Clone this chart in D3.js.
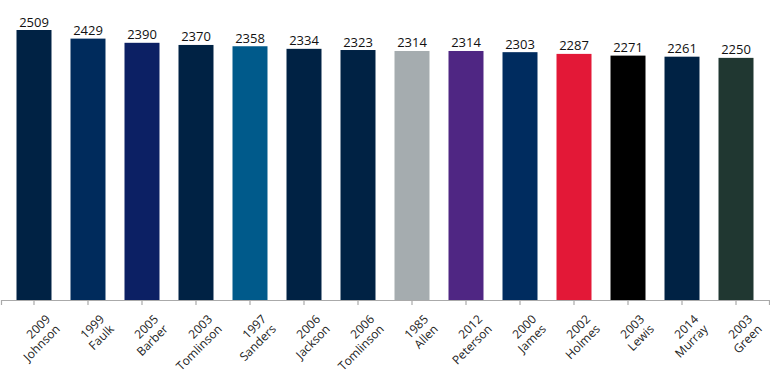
<!DOCTYPE html>
<html><head><meta charset="utf-8">
<script src="https://cdn.jsdelivr.net/npm/d3@7"></script>
<style>body{margin:0;background:#fff}svg{display:block}</style>
</head><body>
<svg id="c" width="770" height="391"></svg>
<script>
const years = ["2009","1999","2005","2003","1997","2006","2006","1985","2012","2000","2002","2003","2014","2003"];
const players = ["Johnson","Faulk","Barber","Tomlinson","Sanders","Jackson","Tomlinson","Allen","Peterson","James","Holmes","Lewis","Murray","Green"];
const yards = [2509,2429,2390,2370,2358,2334,2323,2314,2314,2303,2287,2271,2261,2250];
const colors = ["#002244","#002B5C","#0C2064","#002244","#005A8B","#002244","#002244","#A5ACAF","#4F2683","#002C5F","#E31837","#000000","#002244","#203731"];

const svg = d3.select("#c");
const keys = years.map((y,i)=>i);
const x = d3.scaleBand().domain(keys).range([1,769]).paddingInner(0.352).paddingOuter(0.287);
const y = d3.scaleLinear().domain([0,2509]).range([300,30]);

svg.selectAll("rect.bar").data(yards).join("rect")
  .attr("x",(d,i)=>x(i)).attr("width",x.bandwidth())
  .attr("y",d=>y(d)).attr("height",d=>y(0)-y(d))
  .attr("fill",(d,i)=>colors[i]);

svg.selectAll("text.val").data(yards).join("text")
  .attr("x",(d,i)=>x(i)+x.bandwidth()/2).attr("y",d=>y(d)-3.5)
  .attr("text-anchor","middle").attr("font-family","Open Sans").attr("font-size",13)
  .attr("fill","#111").text(d=>d);

const axis = d3.axisBottom(x).tickSize(5).tickSizeOuter(5).tickFormat(()=>"");
const g = svg.append("g").attr("transform","translate(0,300)").call(axis);
g.selectAll("path,line").attr("stroke","#aaa").attr("stroke-width",1.2);

const lab = svg.selectAll("text.lab").data(keys).join("text")
  .attr("transform",i=>`translate(${x(i)+x.bandwidth()/2+17},${320}) rotate(-45)`)
  .attr("text-anchor","end").attr("font-family","Open Sans").attr("font-size",12).attr("fill","#222");
lab.append("tspan").attr("x",0).attr("y",0).text(i=>years[i]);
lab.append("tspan").attr("x",0).attr("dy","1.15em").text(i=>players[i]);
</script>
</body></html>
